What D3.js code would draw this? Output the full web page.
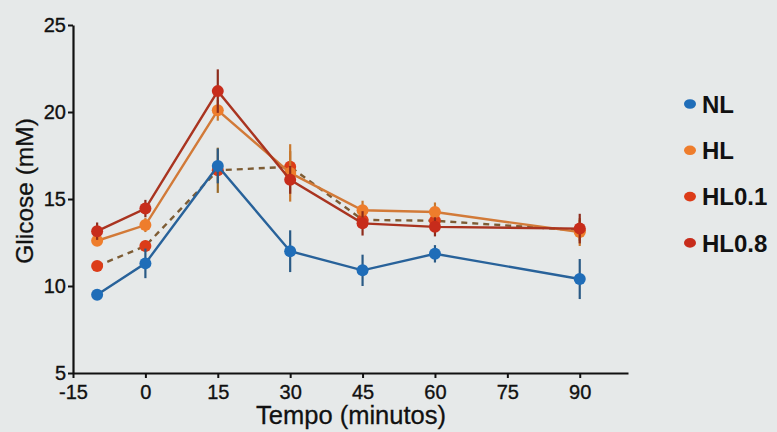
<!DOCTYPE html>
<html>
<head>
<meta charset="utf-8">
<script src="https://cdn.jsdelivr.net/npm/d3@7"></script>
<style>
  html, body { margin: 0; padding: 0; background: #e6e9e9; }
  svg { display: block; }
  text { font-family: "Liberation Sans", Arial, sans-serif; fill: #111; }
</style>
</head>
<body>
<svg id="chart" width="777" height="432"></svg>
<script>
// ---- data ----
const times = [-10, 0, 15, 30, 45, 60, 90];
const xTicks = [-15, 0, 15, 30, 45, 60, 75, 90];
const yTicks = [5, 10, 15, 20, 25];
const seriesNames = ["NL", "HL", "HL0.1", "HL0.8"];
const NL      = [9.5, 11.3, 16.9, 12.0, 10.9, 11.85, 10.4];
const NL_err  = [0.15, 0.85, 1.0, 1.2, 0.9, 0.5, 1.15];
const HL      = [12.6, 13.5, 20.1, 16.5, 14.35, 14.25, 13.1];
const HL_err  = [0.3, 0.4, 0.6, 1.65, 0.55, 0.55, 0.8];
const HL01    = [11.15, 12.3, 16.65, 16.85, 13.8, 13.75, 13.2];
const HL01_err= [0.2, 0.3, 1.3, 0.9, 0.5, 0.5, 0.6];
const HL08    = [13.15, 14.45, 21.2, 16.1, 13.6, 13.4, 13.3];
const HL08_err= [0.5, 0.5, 1.25, 0.8, 0.7, 0.55, 0.85];

const styles = {
  "NL":    {pt: "#1f6db8", line: "#28629a", err: "#2a5a85", dash: null},
  "HL":    {pt: "#ee7d2c", line: "#d27a38", err: "#c9782e", dash: null},
  "HL0.1": {pt: "#dc3c18", line: "#7d5c34", err: "#9a6a28", dash: "6,5"},
  "HL0.8": {pt: "#c72c1b", line: "#a93420", err: "#8e2c1c", dash: null}
};
const data = {
  "NL": [NL, NL_err], "HL": [HL, HL_err], "HL0.1": [HL01, HL01_err], "HL0.8": [HL08, HL08_err]
};

const svg = d3.select("#chart");
const x = d3.scaleLinear().domain([-15, 100]).range([73, 628]);
const y = d3.scaleLinear().domain([5, 25]).range([373, 25]);

// axes
const xAxis = d3.axisBottom(x).tickValues(xTicks).tickSize(5).tickSizeOuter(0).tickPadding(7)
  .tickFormat(d => String(d));
const yAxis = d3.axisLeft(y).tickValues(yTicks).tickSize(5).tickSizeOuter(0).tickPadding(2)
  .tickFormat(d => String(d));

const gx = svg.append("g").attr("transform", `translate(0,${y(5)})`).call(xAxis);
const gy = svg.append("g").attr("transform", `translate(${x(-15)},0)`).call(yAxis);
[gx, gy].forEach(g => {
  g.select(".domain").attr("stroke", "#111").attr("stroke-width", 2.2);
  g.selectAll(".tick line").attr("stroke", "#111").attr("stroke-width", 2);
  g.selectAll(".tick text").attr("font-size", 20).attr("fill", "#111")
    .attr("stroke", "#111").attr("stroke-width", 0.35)
    .attr("font-family", "'Liberation Sans', Arial, sans-serif");
});
gy.selectAll(".tick text").attr("dy", "0.3em");

// axis labels
svg.append("text").attr("x", 351).attr("y", 424).attr("text-anchor", "middle")
  .attr("font-size", 25.5).attr("stroke", "#111").attr("stroke-width", 0.3).text("Tempo (minutos)");
svg.append("text").attr("transform", `translate(33,191) rotate(-90)`)
  .attr("text-anchor", "middle").attr("font-size", 24.5)
  .attr("stroke", "#111").attr("stroke-width", 0.3).text("Glicose (mM)");

const line = d3.line().x(d => x(d.t)).y(d => y(d.v));
const order = ["HL0.1", "NL", "HL", "HL0.8"];

order.forEach(name => {
  const [vals, errs] = data[name];
  const pts = times.map((t, i) => ({t, v: vals[i], e: errs[i]}));
  const st = styles[name];
  const g = svg.append("g");
  g.append("path").datum(pts).attr("d", line).attr("fill", "none")
    .attr("stroke", st.line).attr("stroke-width", 2.4)
    .attr("stroke-dasharray", st.dash);
  g.selectAll("line.err").data(pts).enter().append("line")
    .attr("x1", d => x(d.t)).attr("x2", d => x(d.t))
    .attr("y1", d => y(d.v - d.e)).attr("y2", d => y(d.v + d.e))
    .attr("stroke", st.err).attr("stroke-width", 2.2);
  g.selectAll("circle").data(pts).enter().append("circle")
    .attr("cx", d => x(d.t)).attr("cy", d => y(d.v)).attr("r", 6)
    .attr("fill", st.pt);
});

// legend
const leg = svg.append("g");
seriesNames.forEach((name, i) => {
  const yy = 104 + i * 46.3;
  leg.append("ellipse").attr("cx", 690).attr("cy", yy).attr("rx", 6).attr("ry", 4.8)
    .attr("fill", styles[name].pt);
  leg.append("text").attr("x", 702).attr("y", yy).attr("dy", "0.36em")
    .attr("font-size", 24).attr("font-weight", "bold").text(name);
});
</script>
</body>
</html>
